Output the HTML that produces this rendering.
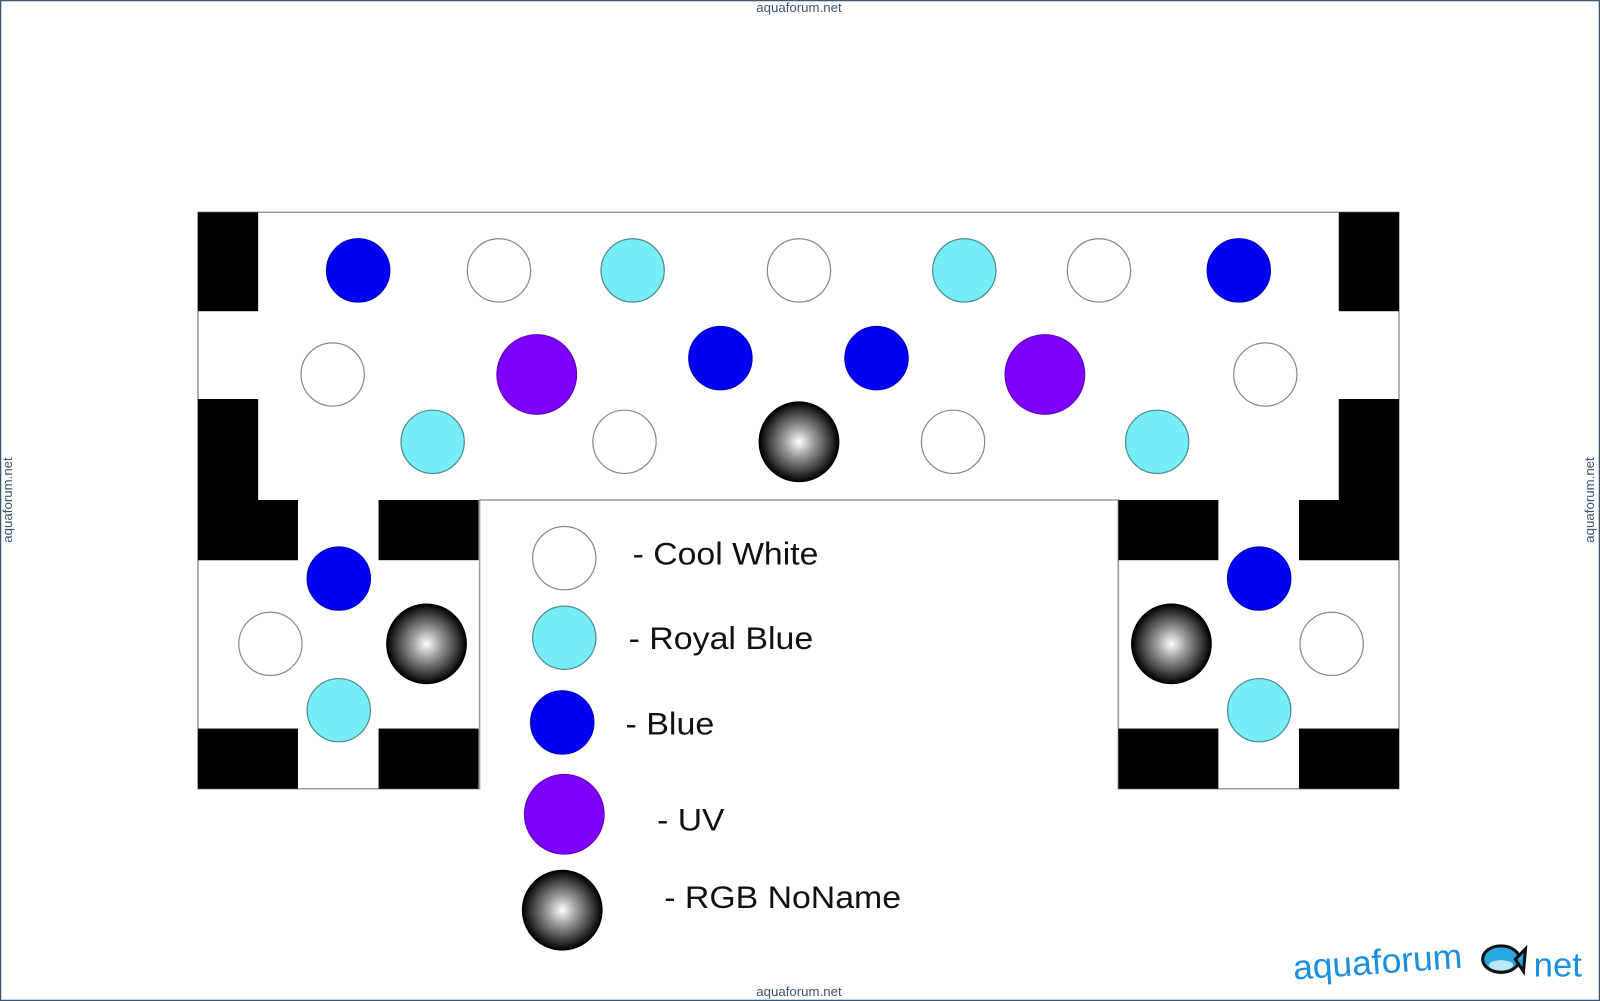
<!DOCTYPE html>
<html><head><meta charset="utf-8"><style>
html,body{margin:0;padding:0;background:#fff;}
svg{display:block;}
text{font-family:"Liberation Sans",sans-serif;}
</style></head><body>
<svg width="1600" height="1001" viewBox="0 0 1568 981" preserveAspectRatio="none" xmlns="http://www.w3.org/2000/svg">
<defs>
<radialGradient id="rgb" cx="50%" cy="50%" r="50%">
<stop offset="0" stop-color="#ffffff"/><stop offset="0.35" stop-color="#a0a0a0"/><stop offset="0.75" stop-color="#404040"/><stop offset="1" stop-color="#000"/>
</radialGradient>
</defs>
<rect x="0.5" y="0.5" width="1567" height="980" fill="#fff" stroke="#3a5670" stroke-width="1.5"/>
<g fill="#3a5670" font-size="13">
<text x="783" y="12" text-anchor="middle">aquaforum.net</text>
<text x="783" y="976" text-anchor="middle">aquaforum.net</text>
<text transform="translate(12,490) rotate(-90)" text-anchor="middle">aquaforum.net</text>
<text transform="translate(1562,490) rotate(-90)" text-anchor="middle">aquaforum.net</text>
</g>
<polygon points="194,208 1371,208 1371,773 1096,773 1096,490 470,490 470,773 194,773" fill="#fff" stroke="#999" stroke-width="1.5"/>
<g fill="#000">
<rect x="194" y="208" width="59" height="97"/>
<polygon points="194,391 253,391 253,490 292,490 292,549 194,549"/>
<rect x="371" y="490" width="98" height="59"/>
<rect x="194" y="714" width="98" height="59"/>
<rect x="371" y="714" width="98" height="59"/>
<rect x="1312" y="208" width="59" height="97"/>
<polygon points="1312,391 1371,391 1371,549 1273,549 1273,490 1312,490"/>
<rect x="1096" y="490" width="98" height="59"/>
<rect x="1096" y="714" width="98" height="59"/>
<rect x="1273" y="714" width="98" height="59"/>
</g>
<g stroke-width="1.2">
<g fill="#fff" stroke="#888">
<circle cx="489" cy="265" r="31"/><circle cx="783" cy="265" r="31"/><circle cx="1077" cy="265" r="31"/>
<circle cx="326" cy="367" r="31"/><circle cx="1240" cy="367" r="31"/>
<circle cx="612" cy="433" r="31"/><circle cx="934" cy="433" r="31"/>
<circle cx="265" cy="631" r="31"/><circle cx="1305" cy="631" r="31"/>
<circle cx="553" cy="547" r="31"/>
</g>
<g fill="#77eef7" stroke="#4a8a90">
<circle cx="620" cy="265" r="31"/><circle cx="945" cy="265" r="31"/>
<circle cx="424" cy="433" r="31"/><circle cx="1134" cy="433" r="31"/>
<circle cx="332" cy="696" r="31"/><circle cx="1234" cy="696" r="31"/>
<circle cx="553" cy="625" r="31"/>
</g>
<g fill="#0000f5" stroke="#0000c0">
<circle cx="351" cy="265" r="31"/><circle cx="1214" cy="265" r="31"/>
<circle cx="706" cy="351" r="31"/><circle cx="859" cy="351" r="31"/>
<circle cx="332" cy="567" r="31"/><circle cx="1234" cy="567" r="31"/>
<circle cx="551" cy="708" r="31"/>
</g>
<g fill="#7f00fa" stroke="#6000c0">
<circle cx="526" cy="367" r="39"/><circle cx="1024" cy="367" r="39"/>
<circle cx="553" cy="798" r="39"/>
</g>
<g fill="url(#rgb)" stroke="#000">
<circle cx="783" cy="433" r="39"/><circle cx="418" cy="631" r="39"/><circle cx="1148" cy="631" r="39"/>
<circle cx="551" cy="892" r="39"/>
</g>
</g>
<g fill="#111" font-size="31">
<text x="620" y="553" textLength="182" lengthAdjust="spacingAndGlyphs">- Cool White</text>
<text x="616" y="636" textLength="181" lengthAdjust="spacingAndGlyphs">- Royal Blue</text>
<text x="613" y="720" textLength="87" lengthAdjust="spacingAndGlyphs">- Blue</text>
<text x="644" y="814" textLength="66" lengthAdjust="spacingAndGlyphs">- UV</text>
<text x="651" y="890" textLength="232" lengthAdjust="spacingAndGlyphs">- RGB NoName</text>
</g>
<g fill="#1a8fe0" font-size="34">
<text x="1268" y="960" transform="rotate(-4 1268 960)" textLength="166" lengthAdjust="spacingAndGlyphs">aquaforum</text>
<text x="1503" y="957">net</text>
</g>
<g transform="translate(1471,940)">
<ellipse cx="0" cy="0" rx="18" ry="13" fill="#29a8e0" stroke="#111" stroke-width="3"/>
<polygon points="14,0 24,-10 22,12" fill="#29a8e0" stroke="#111" stroke-width="3"/>
<ellipse cx="0" cy="6" rx="12" ry="5" fill="#bfe6f7"/>
</g>
</svg>
</body></html>
